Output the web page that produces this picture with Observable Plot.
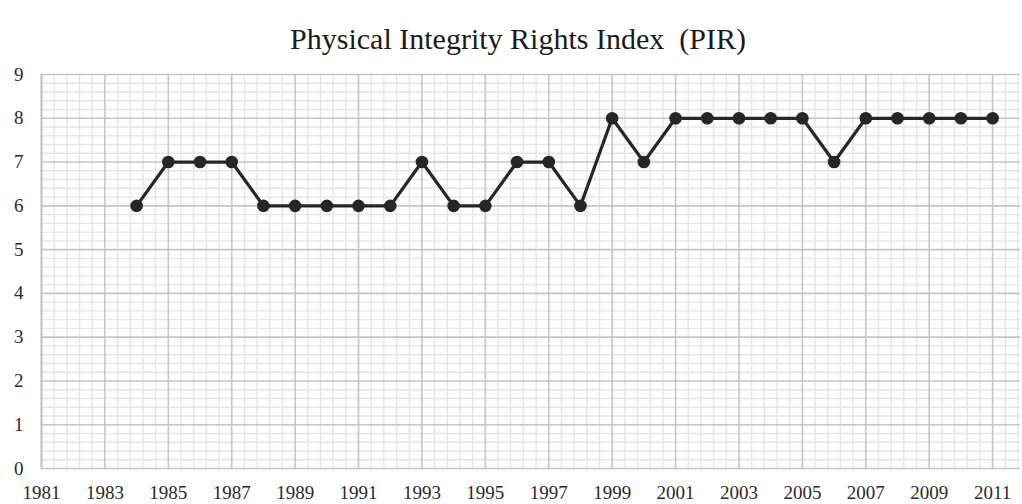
<!DOCTYPE html>
<html>
<head>
<meta charset="utf-8">
<script src="https://cdn.jsdelivr.net/npm/d3@7"></script>
<script src="https://cdn.jsdelivr.net/npm/@observablehq/plot@0.6"></script>
<style>
  html, body { margin: 0; padding: 0; background: #fff; }
  #title { height: 60px; box-sizing: border-box; padding-top: 24px; padding-left: 14px; text-align: center;
           font-family: "Liberation Serif", "DejaVu Serif", serif; font-size: 30px; color: #1a1a1a; line-height: 1; }
  #chart svg { display: block; }
  #chart svg text { font-family: "Liberation Serif", "DejaVu Serif", serif !important; font-size: 19px !important; }
</style>
</head>
<body>
<div id="title">Physical Integrity Rights Index&nbsp;&nbsp;(PIR)</div>
<div id="chart"></div>
<script>
const years = [1984,1985,1986,1987,1988,1989,1990,1991,1992,1993,1994,1995,1996,1997,1998,1999,2000,2001,2002,2003,2004,2005,2006,2007,2008,2009,2010,2011];
const pir   = [6,7,7,7,6,6,6,6,6,7,6,6,7,7,6,8,7,8,8,8,8,8,7,8,8,8,8,8];
const xTicks = [1981,1983,1985,1987,1989,1991,1993,1995,1997,1999,2001,2003,2005,2007,2009,2011];
const yTicks = [0,1,2,3,4,5,6,7,8,9];

const data = years.map((y, i) => ({year: y, value: pir[i]}));
const xMin = 1981, xMax = 2011.88;
const minorX = d3.range(xMin, xMax, 0.4).filter(v => Math.abs((v - xMin) / 2 - Math.round((v - xMin) / 2)) > 1e-6);
const minorY = d3.range(0, 9, 0.2).filter(v => Math.abs(v - Math.round(v)) > 1e-6);

const plot = Plot.plot({
  width: 1022,
  height: 444,
  marginLeft: 41,
  marginRight: 2,
  marginTop: 14,
  marginBottom: 36,
  style: {fontFamily: "'Liberation Serif', 'DejaVu Serif', serif", fontSize: "19px", color: "#333"},
  x: {domain: [xMin, xMax], label: null},
  y: {domain: [0, 9], label: null},
  marks: [
    Plot.ruleX(minorX, {stroke: "#e6e6e6", strokeWidth: 1.4}),
    Plot.ruleY(minorY, {stroke: "#e6e6e6", strokeWidth: 1.4}),
    Plot.ruleX(xTicks, {stroke: "#c6c6c6", strokeWidth: 1.6}),
    Plot.ruleY(yTicks, {stroke: "#c6c6c6", strokeWidth: 1.6}),
    Plot.ruleX([xMin], {stroke: "#bdbdbd", strokeWidth: 1.6}),
    Plot.axisX({ticks: xTicks, tickFormat: d => String(d), tickSize: 0, tickPadding: 17, fontSize: 19, fill: "#2a2a2a"}),
    Plot.axisY({ticks: yTicks, tickSize: 0, tickPadding: 18, fontSize: 19, fill: "#2a2a2a"}),
    Plot.line(data, {x: "year", y: "value", stroke: "#262626", strokeWidth: 3.2}),
    Plot.dot(data, {x: "year", y: "value", r: 6.3, fill: "#262626", stroke: "none"})
  ]
});
document.getElementById("chart").appendChild(plot);
</script>
</body>
</html>
